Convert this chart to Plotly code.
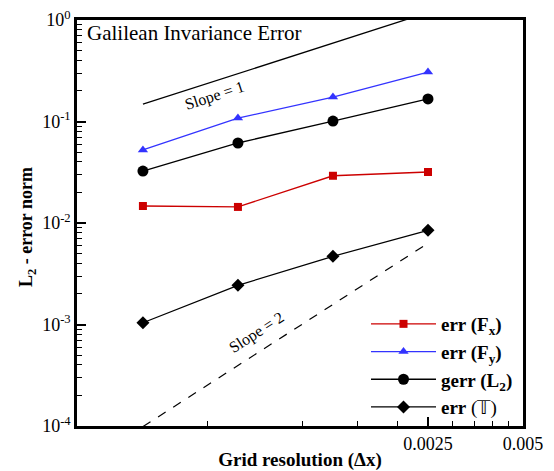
import plotly.graph_objects as go
import math

# Grid resolution values (dx)
dx = [0.0003125, 0.000625, 0.00125, 0.0025]

# Error series
err_fx = [0.0147, 0.0144, 0.0292, 0.0318]
err_fy = [0.0524, 0.108, 0.174, 0.307]
gerr_l2 = [0.0325, 0.0614, 0.101, 0.167]
err_t = [0.00104, 0.00243, 0.0047, 0.00848]

# Reference slope lines
slope1_x = [0.0003125, 0.0025]
slope1_y = [0.148, 1.184]
slope2_x = [0.0003125, 0.0025]
slope2_y = [0.0000986, 0.00631]

x_tick_vals = [0.0025, 0.005]
x_tick_text = ["0.0025", "0.005"]
x_minor_vals = [0.0005, 0.001, 0.0015, 0.002, 0.003, 0.0035, 0.004, 0.0045]
y_tick_vals = [1e-4, 1e-3, 1e-2, 1e-1, 1e0]
y_tick_text = ["10<sup>-4</sup>", "10<sup>-3</sup>", "10<sup>-2</sup>", "10<sup>-1</sup>", "10<sup>0</sup>"]
y_minor_vals = [m * 10 ** e for e in range(-4, 0) for m in range(2, 10)]

# Annotation anchor points (data units)
slope1_label = (0.000525, 0.178)
slope2_label = (0.000713, 0.000824)

SERIF = "Liberation Serif, Times New Roman, serif"
RED = "#cc0000"
BLUE = "#3333ff"

fig = go.Figure()

fig.add_trace(go.Scatter(x=slope1_x, y=slope1_y, mode="lines",
                         line=dict(color="black", width=1.3), showlegend=False, hoverinfo="skip"))
fig.add_trace(go.Scatter(x=slope2_x, y=slope2_y, mode="lines",
                         line=dict(color="black", width=1.2, dash="dash"), showlegend=False, hoverinfo="skip"))

fig.add_trace(go.Scatter(x=dx, y=err_fx, mode="lines+markers", name="<b>err (F<sub>x</sub>)</b>",
                         line=dict(color=RED, width=1.3),
                         marker=dict(symbol="square", size=8, color=RED)))
fig.add_trace(go.Scatter(x=dx, y=err_fy, mode="lines+markers", name="<b>err (F<sub>y</sub>)</b>",
                         line=dict(color=BLUE, width=1.3),
                         marker=dict(symbol="triangle-up", size=9, color=BLUE)))
fig.add_trace(go.Scatter(x=dx, y=gerr_l2, mode="lines+markers", name="<b>gerr (L<sub>2</sub>)</b>",
                         line=dict(color="black", width=1.3),
                         marker=dict(symbol="circle", size=11, color="black")))
fig.add_trace(go.Scatter(x=dx, y=err_t, mode="lines+markers", name="<b>err</b> (𝕋)",
                         line=dict(color="black", width=1.3),
                         marker=dict(symbol="diamond", size=10, color="black")))

fig.update_layout(
    width=554, height=471,
    margin=dict(l=77, r=31, t=20, b=45, autoexpand=False),
    paper_bgcolor="white", plot_bgcolor="white",
    font=dict(family=SERIF, size=16, color="black"),
    showlegend=True,
    legend=dict(x=0.648, y=0.0, xanchor="left", yanchor="bottom",
                bgcolor="rgba(0,0,0,0)", font=dict(family=SERIF, size=19, color="black"),
                itemwidth=65, tracegroupgap=0),
    xaxis=dict(type="log", range=[-3.714, -2.30103], automargin=False,
               tickmode="array", tickvals=x_tick_vals, ticktext=x_tick_text,
               ticks="inside", ticklen=9, tickwidth=1.5, tickcolor="black",
               minor=dict(tickvals=x_minor_vals, ticks="inside", ticklen=5, tickwidth=1, tickcolor="black"),
               showline=True, linecolor="black", linewidth=2.5, mirror=True,
               showgrid=False, zeroline=False,
               tickfont=dict(family=SERIF, size=18),
               title=dict(text="<b>Grid resolution (Δx)</b>", font=dict(family=SERIF, size=19))),
    yaxis=dict(type="log", range=[-4, 0], automargin=False,
               tickmode="array", tickvals=y_tick_vals, ticktext=y_tick_text,
               ticks="inside", ticklen=9, tickwidth=1.5, tickcolor="black",
               minor=dict(tickvals=y_minor_vals, ticks="inside", ticklen=5, tickwidth=1, tickcolor="black"),
               showline=True, linecolor="black", linewidth=2.5, mirror=True,
               showgrid=False, zeroline=False,
               tickfont=dict(family=SERIF, size=18)),
    annotations=[
        dict(text="<b>L<sub>2</sub> - error norm</b>", xref="paper", yref="paper", x=-0.112, y=0.49,
             xanchor="center", yanchor="middle", showarrow=False, textangle=-90,
             font=dict(family=SERIF, size=18)),
        dict(text="Galilean Invariance Error", xref="paper", yref="paper", x=0.018, y=0.968,
             xanchor="left", yanchor="middle", showarrow=False, font=dict(family=SERIF, size=21)),
        dict(text="Slope = 1", xref="x", yref="y",
             x=math.log10(slope1_label[0]), y=math.log10(slope1_label[1]),
             showarrow=False, textangle=-18, font=dict(family=SERIF, size=16)),
        dict(text="Slope = 2", xref="x", yref="y",
             x=math.log10(slope2_label[0]), y=math.log10(slope2_label[1]),
             showarrow=False, textangle=-33, font=dict(family=SERIF, size=16)),
    ],
)

fig.write_html("out.html")
